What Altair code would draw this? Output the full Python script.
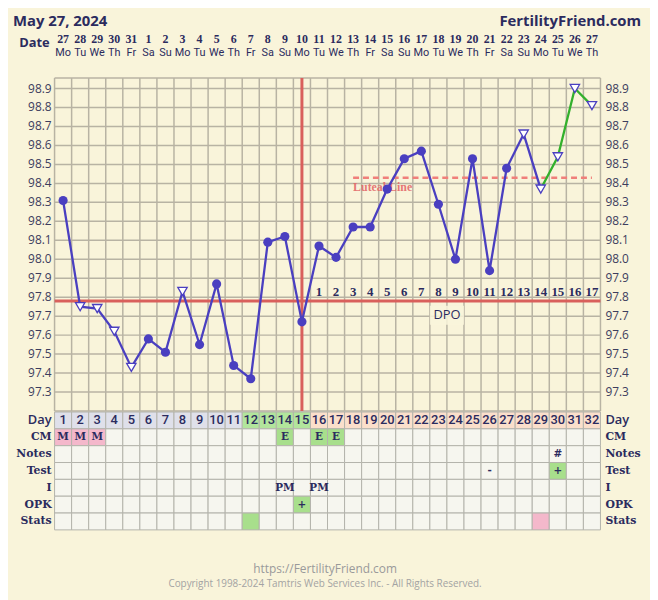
import altair as alt
import pandas as pd

# ---------------- data ----------------
days = list(range(1, 33))
dates = [27, 28, 29, 30, 31] + list(range(1, 28))
weekdays = (["Mo", "Tu", "We", "Th", "Fr", "Sa", "Su"] * 5)[:32]
temps = [98.31, 97.75, 97.74, 97.62, 97.43, 97.58, 97.51, 97.83, 97.55, 97.87,
         97.44, 97.37, 98.09, 98.12, 97.67, 98.07, 98.01, 98.17, 98.17, 98.37,
         98.53, 98.57, 98.29, 98.00, 98.53, 97.94, 98.48, 98.66, 98.37, 98.54,
         98.90, 98.81]
open_days = [2, 3, 4, 5, 8, 28, 29, 30, 31, 32]
green_from = 29
y_ticks = [97.3, 97.4, 97.5, 97.6, 97.7, 97.8, 97.9, 98.0, 98.1, 98.2, 98.3,
           98.4, 98.5, 98.6, 98.7, 98.8, 98.9]
grid_temps = [97.2] + y_ticks
coverline = 97.78
ovulation_day = 15
luteal_temp = 98.43
luteal_start, luteal_end = 18, 32
dpo_days = list(range(16, 33))
dpo_nums = list(range(1, 18))

rows = ["Day", "CM", "Notes", "Test", "I", "OPK", "Stats"]
cm = {1: "M", 2: "M", 3: "M", 14: "E", 16: "E", 17: "E"}
notes = {30: "#"}
test = {26: "-", 30: "+"}
intercourse = {14: "PM", 16: "PM"}
opk = {15: "+"}
stats_green = [12]
stats_pink = [29]

# ---------------- style ----------------
BG = "#f9f4da"
NAVY = "#2b2b5e"
GRID = "#b8b3a3"
PURPLE = "#4a3fc0"
GREEN_LINE = "#33b02c"
RED = "#d9605c"
CELL = "#f6f6ef"
DAYBLUE = "#dfe0ea"
DAYGREEN = "#b2e59c"
DAYPEACH = "#fbdfcb"
PINK = "#f4b8cb"
GREENC = "#a8df8c"

W, H = 551, 336
xs = alt.Scale(domain=[0.5, 32.5], range=[0, W], nice=False, zero=False)
ys = alt.Scale(domain=[97.2, 98.955], range=[H, 0], nice=False, zero=False)
ts = alt.Scale(domain=[0, 7], range=[337, 456], nice=False, zero=False)

def X(f):
    return alt.X(f, type="quantitative", scale=xs, axis=None)

def Y(f):
    return alt.Y(f, type="quantitative", scale=ys, axis=None)

def T(f):
    return alt.Y(f, type="quantitative", scale=ts, axis=None)

layers = []

# grid
vb = pd.DataFrame({"b": [d - 0.5 for d in days] + [32.5]})
layers.append(alt.Chart(vb).mark_rule(color=GRID, strokeWidth=1.5).encode(
    x=X("b"), y=alt.value(0), y2=alt.value(H)))
hb = pd.DataFrame({"t": grid_temps})
layers.append(alt.Chart(hb).mark_rule(color=GRID, strokeWidth=1.5).encode(
    y=Y("t"), x=alt.value(0), x2=alt.value(W)))
layers.append(alt.Chart(pd.DataFrame({"a": [0]})).mark_rule(color=GRID, strokeWidth=1.5).encode(
    y=alt.value(0), x=alt.value(0), x2=alt.value(W)))

# DPO box
dbox = pd.DataFrame({"x0": [22.5], "x1": [24.5], "y0": [97.755], "y1": [97.655],
                     "xc": [23.5], "yc": [97.705], "lab": ["DPO"]})
layers.append(alt.Chart(dbox).mark_rect(color=BG, opacity=0.85).encode(
    x=X("x0"), x2="x1", y=Y("y0"), y2="y1"))
layers.append(alt.Chart(dbox).mark_text(font="Open Sans", fontSize=13, color=NAVY).encode(
    x=X("xc"), y=Y("yc"), text="lab:N"))

# coverline & ovulation
layers.append(alt.Chart(pd.DataFrame({"c": [coverline]})).mark_rule(color=RED, strokeWidth=3).encode(
    y=Y("c"), x=alt.value(0), x2=alt.value(W)))
layers.append(alt.Chart(pd.DataFrame({"o": [ovulation_day]})).mark_rule(color=RED, strokeWidth=3).encode(
    x=X("o"), y=alt.value(0), y2=alt.value(H)))

# luteal line
ldf = pd.DataFrame({"x0": [luteal_start], "x1": [luteal_end], "t": [luteal_temp], "lab": ["Luteal Line"]})
layers.append(alt.Chart(ldf).mark_rule(color="#f07f7a", strokeWidth=2.5, strokeDash=[6, 4]).encode(
    x=X("x0"), x2="x1", y=Y("t")))
layers.append(alt.Chart(ldf).mark_text(font="Liberation Serif", fontWeight="bold", fontSize=12,
                                       color="#e46a6a", align="left", dy=9, opacity=0.9).encode(
    x=X("x0"), y=Y("t"), text="lab:N"))

# DPO numbers
ddf = pd.DataFrame({"d": dpo_days, "n": dpo_nums, "c": [coverline] * len(dpo_days)})
layers.append(alt.Chart(ddf).mark_text(font="Liberation Serif", fontWeight="bold", fontSize=13,
                                       color=NAVY, dy=-9).encode(
    x=X("d"), y=Y("c"), text="n:N"))

# temperature lines
tdf = pd.DataFrame({"d": days, "t": temps})
tdf["open"] = tdf["d"].isin(open_days)
layers.append(alt.Chart(tdf[tdf["d"] <= green_from]).mark_line(color=PURPLE, strokeWidth=2.3).encode(
    x=X("d"), y=Y("t")))
layers.append(alt.Chart(tdf[tdf["d"] >= green_from]).mark_line(color=GREEN_LINE, strokeWidth=2.3).encode(
    x=X("d"), y=Y("t")))
layers.append(alt.Chart(tdf[~tdf["open"]]).mark_point(shape="circle", filled=True, size=85,
                                                       color=PURPLE, opacity=1).encode(
    x=X("d"), y=Y("t")))
layers.append(alt.Chart(tdf[tdf["open"]]).mark_point(shape="triangle-down", filled=True, size=90,
                                                      fill="white", stroke=PURPLE, strokeWidth=1.3,
                                                      opacity=1).encode(
    x=X("d"), y=Y("t")))

# axis labels
adf = pd.DataFrame({"t": y_ticks, "lab": [f"{v:.1f}" for v in y_ticks]})
layers.append(alt.Chart(adf).mark_text(font="Open Sans", fontSize=12, color="#3d3d5e", align="right").encode(
    y=Y("t"), x=alt.value(-3), text="lab:N"))
layers.append(alt.Chart(adf).mark_text(font="Open Sans", fontSize=12, color="#3d3d5e", align="left").encode(
    y=Y("t"), x=alt.value(556), text="lab:N"))

# header dates
hdf = pd.DataFrame({"d": days, "date": dates, "wd": weekdays})
layers.append(alt.Chart(hdf).mark_text(font="Liberation Serif", fontWeight="bold", fontSize=12, color=NAVY).encode(
    x=X("d"), y=alt.value(-39), text="date:N"))
layers.append(alt.Chart(hdf).mark_text(font="Roboto", fontSize=11, color=NAVY).encode(
    x=X("d"), y=alt.value(-25), text="wd:N"))
layers.append(alt.Chart(pd.DataFrame({"lab": ["Date"]})).mark_text(
    font="Open Sans", fontWeight="bold", fontSize=13, color=NAVY, align="right").encode(
    x=alt.value(-5), y=alt.value(-35), text="lab:N"))
layers.append(alt.Chart(pd.DataFrame({"lab": ["May 27, 2024"]})).mark_text(
    font="Open Sans", fontWeight="bold", fontSize=15, color=NAVY, align="left").encode(
    x=alt.value(-42), y=alt.value(-58), text="lab:N"))
layers.append(alt.Chart(pd.DataFrame({"lab": ["FertilityFriend.com"]})).mark_text(
    font="Open Sans", fontWeight="bold", fontSize=15, color=NAVY, align="right").encode(
    x=alt.value(592), y=alt.value(-58), text="lab:N"))

# table
recs = []
texts = []
for ri, r in enumerate(rows):
    for d in days:
        fill = CELL
        txt = ""
        if r == "Day":
            fill = DAYBLUE if d <= 11 else (DAYGREEN if d <= 15 else DAYPEACH)
        elif r == "CM" and d in cm:
            txt = cm[d]
            fill = PINK if txt == "M" else GREENC
        elif r == "Notes" and d in notes:
            txt = notes[d]
        elif r == "Test" and d in test:
            txt = test[d]
            if txt == "+":
                fill = GREENC
        elif r == "I" and d in intercourse:
            txt = intercourse[d]
        elif r == "OPK" and d in opk:
            txt = opk[d]
            fill = GREENC
        elif r == "Stats":
            if d in stats_green:
                fill = GREENC
            elif d in stats_pink:
                fill = PINK
        recs.append({"x0": d - 0.5, "x1": d + 0.5, "r0": ri, "r1": ri + 1, "fill": fill})
        if txt:
            texts.append({"d": d, "rc": ri + 0.5, "txt": txt})
rdf = pd.DataFrame(recs)
layers.append(alt.Chart(rdf).mark_rect(stroke="#b3b3ab", strokeWidth=1).encode(
    x=X("x0"), x2="x1", y=T("r0"), y2="r1", fill=alt.Fill("fill:N", scale=None)))
daydf = pd.DataFrame({"d": days, "rc": [0.5] * 32})
layers.append(alt.Chart(daydf).mark_text(font="Roboto", fontWeight=500, fontSize=13, color=NAVY).encode(
    x=X("d"), y=T("rc"), text="d:N"))
txdf = pd.DataFrame(texts)
layers.append(alt.Chart(txdf).mark_text(font="DejaVu Serif", fontWeight="bold", fontSize=10.5, color=NAVY).encode(
    x=X("d"), y=T("rc"), text="txt:N"))
ldf2 = pd.DataFrame({"lab": rows, "rc": [i + 0.5 for i in range(len(rows))]})
sans = ldf2[ldf2["lab"] == "Day"]
serif = ldf2[ldf2["lab"] != "Day"]
for xv, al in [(-3, "right"), (556, "left")]:
    layers.append(alt.Chart(sans).mark_text(font="Open Sans", fontWeight=600, fontSize=13,
                                            color=NAVY, align=al).encode(
        x=alt.value(xv), y=T("rc"), text="lab:N"))
    layers.append(alt.Chart(serif).mark_text(font="DejaVu Serif", fontWeight="bold", fontSize=11,
                                             color=NAVY, align=al).encode(
        x=alt.value(xv), y=T("rc"), text="lab:N"))

# footer
layers.append(alt.Chart(pd.DataFrame({"lab": ["https://FertilityFriend.com"]})).mark_text(
    font="Open Sans", fontSize=12, color="#9a9a9a").encode(
    x=alt.value(273), y=alt.value(496), text="lab:N"))
layers.append(alt.Chart(pd.DataFrame({"lab": ["Copyright 1998-2024 Tamtris Web Services Inc. - All Rights Reserved."]})).mark_text(
    font="Open Sans", fontSize=10, color="#a3a3a3").encode(
    x=alt.value(273), y=alt.value(511), text="lab:N"))

chart = alt.layer(*layers).resolve_scale(y="independent").properties(
    width=W, height=H,
    autosize=alt.AutoSizeParams(type="none"),
    padding={"left": 47, "top": 68, "right": 50, "bottom": 188},
    background=BG,
).configure_view(stroke=None)

chart.save("out.html", embed_options={"renderer": "svg", "actions": False})
